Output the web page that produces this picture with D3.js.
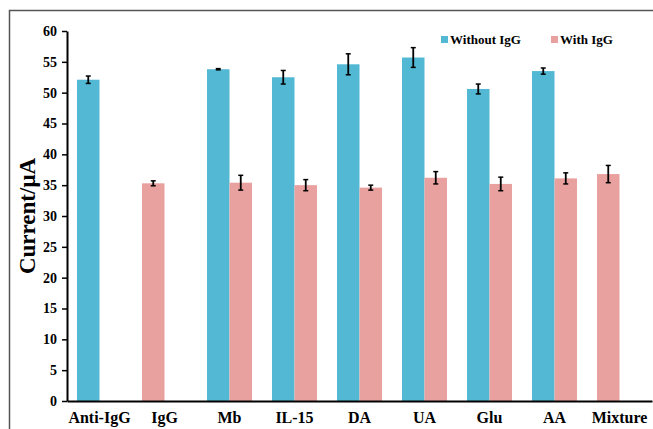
<!DOCTYPE html>
<html>
<head>
<meta charset="utf-8">
<script src="https://cdn.jsdelivr.net/npm/d3@7/dist/d3.min.js"></script>
<style>
  html, body { margin: 0; padding: 0; background: #fff; }
  svg { display: block; }
  svg text { font-family: "Liberation Serif", "Times New Roman", serif !important; font-weight: bold; fill: #000; }
</style>
</head>
<body>
<script>
// Categories tested
const categories = ["Anti-IgG", "IgG", "Mb", "IL-15", "DA", "UA", "Glu", "AA", "Mixture"];
// Peak current (µA) without IgG and its error
const withoutIgG    = [52.1, null, 53.8, 52.5, 54.6, 55.7, 50.6, 53.5, null];
const withoutIgGErr = [0.6,  null, 0.1,  1.1,  1.7,  1.6,  0.8,  0.5,  null];
// Peak current (µA) with IgG and its error
const withIgG    = [null, 35.3, 35.4, 35.0, 34.6, 36.2, 35.2, 36.1, 36.8];
const withIgGErr = [null, 0.4,  1.2,  0.9,  0.4,  1.0,  1.1,  0.9,  1.4];
// Axis ticks
const yTicks = [0, 5, 10, 15, 20, 25, 30, 35, 40, 45, 50, 55, 60];
const seriesNames = ["Without IgG", "With IgG"];
const seriesColors = ["#52b8d3", "#e8a19e"];

const W = 653, H = 429;
const FONT = "'Liberation Serif', 'Times New Roman', serif";

const svg = d3.select("body").append("svg").attr("width", W).attr("height", H);

// outer frame (top and left edges)
svg.append("path")
  .attr("d", `M9.5,${H} V10.5 H${W}`)
  .attr("fill", "none").attr("stroke", "#555").attr("stroke-width", 1.5);

const x = d3.scaleBand()
  .domain(categories)
  .range([67, 652])
  .paddingInner(0.3077)
  .paddingOuter(0.1538);

const y = d3.scaleLinear().domain([0, 60]).range([401, 31]);

const slot = d3.scaleBand().domain([0, 1]).range([0, x.bandwidth()]);

// Build bar records: values present in a group are packed from the left slot
const bars = [];
categories.forEach((c, i) => {
  const vals = [
    { s: 0, v: withoutIgG[i], e: withoutIgGErr[i] },
    { s: 1, v: withIgG[i], e: withIgGErr[i] }
  ].filter(d => d.v != null);
  vals.forEach((d, k) => bars.push({ cat: c, series: d.s, value: d.v, err: d.e, slot: k }));
});

const g = svg.append("g");

g.selectAll("rect.bar").data(bars).join("rect")
  .attr("class", "bar")
  .attr("x", d => x(d.cat) + slot(d.slot))
  .attr("width", slot.bandwidth())
  .attr("y", d => y(d.value))
  .attr("height", d => y(0) - y(d.value))
  .attr("fill", d => seriesColors[d.series]);

// error bars
const eb = g.selectAll("g.err").data(bars).join("g").attr("class", "err")
  .attr("transform", d => `translate(${x(d.cat) + slot(d.slot) + slot.bandwidth() / 2},0)`);
eb.append("line")
  .attr("y1", d => y(d.value + d.err)).attr("y2", d => y(d.value - d.err))
  .attr("stroke", "#000").attr("stroke-width", 1.8);
eb.append("line")
  .attr("x1", -2.5).attr("x2", 2.5)
  .attr("y1", d => y(d.value + d.err)).attr("y2", d => y(d.value + d.err))
  .attr("stroke", "#000").attr("stroke-width", 1.5);
eb.append("line")
  .attr("x1", -2.5).attr("x2", 2.5)
  .attr("y1", d => y(d.value - d.err)).attr("y2", d => y(d.value - d.err))
  .attr("stroke", "#000").attr("stroke-width", 1.5);

// y axis
const yAxis = svg.append("g")
  .attr("transform", `translate(67,0)`)
  .call(d3.axisLeft(y).tickValues(yTicks).tickSize(5).tickPadding(5).tickSizeOuter(0))
  .attr("font-family", FONT);
yAxis.select(".domain").attr("stroke", "#000").attr("stroke-width", 2);
yAxis.selectAll(".tick line").attr("stroke", "#000").attr("stroke-width", 1.5);
yAxis.selectAll(".tick text").style("font-size", "14px").style("font-family", FONT).attr("fill", "#000");

// x axis
const xAxis = svg.append("g")
  .attr("transform", `translate(0,${y(0)})`)
  .call(d3.axisBottom(x).tickSize(0).tickPadding(11).tickSizeOuter(0))
  .attr("font-family", FONT);
xAxis.select(".domain").attr("stroke", "#000").attr("stroke-width", 2);
xAxis.selectAll(".tick text").style("font-size", "16px").style("font-family", FONT).attr("fill", "#000");

// y-axis title
svg.append("text")
  .attr("transform", "translate(35,216) rotate(-90)")
  .attr("text-anchor", "middle")
  .style("font-size", "23px")
  .style("font-family", FONT)
  .text("Current/μA");

// legend
const legendX = [441, 551];
const lg = svg.selectAll("g.legend").data(seriesNames).join("g").attr("class", "legend")
  .attr("transform", (d, i) => `translate(${legendX[i]},36)`);
lg.append("rect").attr("width", 7).attr("height", 7).attr("fill", (d, i) => seriesColors[i]);
lg.append("text").attr("x", 9).attr("y", 8).style("font-size", "13px").style("font-family", FONT).text(d => d);
</script>
</body>
</html>
